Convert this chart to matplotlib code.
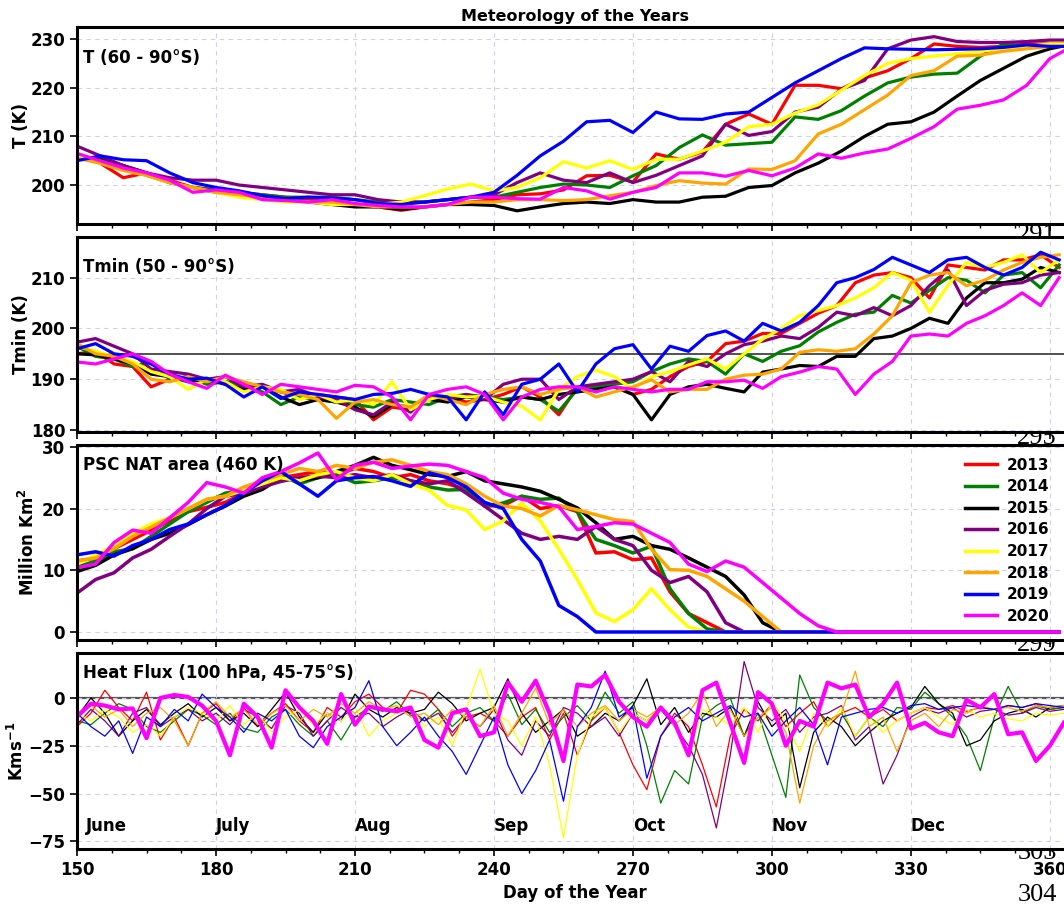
import numpy as np
import matplotlib as mpl
mpl.use('Agg')
import matplotlib.pyplot as plt

plt.rcParams['font.family'] = 'DejaVu Sans'
plt.rcParams['font.weight'] = 'bold'
plt.rcParams['axes.labelweight'] = 'bold'

years = ['2013', '2014', '2015', '2016', '2017', '2018', '2019', '2020']
colors = ['red', 'green', 'black', 'purple', 'yellow', 'orange', 'blue', 'magenta']

# day grids used when reading the curves off the figure
days5 = np.arange(150, 366, 5)
days4 = np.arange(150, 363, 4)
days3 = np.arange(150, 364, 3)

# T (60 - 90S), every 5 days
t_2013 = [206.0, 204.5, 201.5, 202.5, 201.0, 199.5, 199.0, 198.5, 198.0, 197.5,
          197.0, 196.5, 196.0, 195.5, 194.8, 195.5, 196.0, 196.5, 197.0, 198.0,
          198.2, 199.0, 201.9, 202.0, 200.6, 206.4, 205.3, 206.8, 212.5, 214.6,
          212.5, 220.5, 220.5, 219.8, 222.0, 223.5, 226.0, 229.0, 228.5, 228.3,
          228.5, 229.0, 229.0, 229.0]
t_2014 = [206.0, 205.0, 203.5, 202.0, 200.5, 199.5, 199.0, 198.5, 198.0, 197.5,
          197.5, 197.5, 197.0, 196.5, 196.5, 196.5, 197.0, 197.5, 197.5, 198.5,
          199.5, 200.2, 200.0, 199.5, 201.9, 204.0, 207.7, 210.3, 208.2, 208.5,
          208.8, 214.0, 213.5, 215.3, 218.3, 221.0, 222.2, 222.8, 223.0, 226.5,
          229.0, 228.6, 228.8, 229.0]
t_2015 = [205.5, 205.5, 204.0, 202.5, 200.5, 199.5, 198.5, 198.0, 197.5, 197.0,
          196.5, 196.0, 195.5, 195.5, 195.0, 195.5, 196.0, 196.0, 195.8, 194.7,
          195.5, 196.2, 196.5, 196.2, 197.0, 196.5, 196.5, 197.5, 197.7, 199.5,
          199.9, 202.5, 204.5, 207.0, 210.0, 212.5, 213.0, 215.0, 218.3, 221.5,
          224.0, 226.5, 228.0, 229.0]
t_2016 = [208.0, 206.0, 204.0, 202.5, 201.5, 201.0, 201.0, 200.0, 199.5, 199.0,
          198.5, 198.0, 198.0, 197.0, 196.5, 196.5, 197.0, 197.5, 198.0, 200.5,
          202.5, 201.0, 200.5, 202.5, 200.5, 202.0, 204.0, 206.0, 212.5, 210.2,
          211.0, 215.0, 216.0, 219.7, 221.5, 228.0, 229.8, 230.5, 229.5, 229.3,
          229.3, 229.5, 229.8, 229.8]
t_2017 = [206.0, 204.5, 203.0, 202.0, 200.5, 199.5, 198.5, 197.5, 197.0, 196.5,
          196.5, 196.0, 196.0, 196.0, 196.5, 197.8, 199.2, 200.2, 198.8, 199.5,
          201.5, 204.8, 203.5, 205.0, 203.2, 205.3, 205.3, 207.0, 208.8, 212.0,
          212.5, 214.8, 216.5, 219.5, 222.5, 225.0, 226.0, 226.5, 227.0, 227.5,
          228.0, 228.5, 229.0, 229.0]
t_2018 = [205.5, 204.5, 203.0, 202.0, 200.5, 199.5, 198.5, 198.0, 197.5, 197.0,
          196.5, 196.5, 196.0, 195.5, 195.5, 195.5, 196.0, 196.5, 196.5, 197.0,
          197.0, 196.8, 197.0, 197.8, 198.5, 199.9, 200.9, 200.4, 200.2, 203.3,
          203.2, 205.0, 210.5, 212.5, 215.5, 218.5, 222.5, 223.5, 226.5, 226.7,
          227.5, 228.0, 228.5, 228.5]
t_2019 = [205.0, 206.0, 205.2, 205.0, 202.5, 200.5, 199.5, 198.8, 197.8, 197.2,
          197.5, 197.3, 197.0, 196.2, 196.0, 196.5, 197.0, 197.5, 198.5, 202.0,
          206.0, 209.0, 213.0, 213.3, 210.8, 215.0, 213.6, 213.5, 214.6, 215.0,
          218.0, 221.0, 223.5, 226.0, 228.2, 228.0, 227.9, 227.8, 227.9, 228.0,
          228.3, 228.8, 228.5, 228.5]
t_2020 = [206.5, 205.0, 203.5, 202.5, 201.0, 198.5, 199.0, 198.5, 197.0, 196.8,
          196.5, 197.0, 196.2, 195.8, 195.5, 195.5, 196.0, 197.5, 197.5, 197.2,
          197.1, 199.5, 198.8, 197.1, 198.5, 199.5, 202.5, 202.5, 201.8, 203.0,
          201.9, 203.5, 206.4, 205.5, 206.6, 207.4, 209.6, 212.0, 215.6, 216.4,
          217.5, 220.5, 226.0, 228.6]

# Tmin (50 - 90S), every 4 days
tmin_2013 = [195.0, 195.5, 193.0, 192.5, 188.5, 190.0, 190.5, 189.5, 189.5, 189.0,
             188.5, 187.5, 186.5, 187.0, 186.5, 186.0, 182.0, 184.5, 184.0, 186.5,
             186.5, 185.5, 186.0, 187.0, 188.5, 186.5, 183.0, 188.5, 188.0, 188.5,
             187.0, 188.0, 190.5, 192.5, 193.5, 197.0, 197.5, 199.0, 199.0, 201.0,
             203.0, 204.5, 209.0, 210.5, 211.0, 210.0, 206.0, 212.5, 212.0, 211.5,
             213.5, 213.5, 214.5, 212.0]
tmin_2014 = [196.5, 194.5, 194.0, 192.5, 193.4, 190.0, 190.5, 189.0, 189.5, 188.5,
             187.5, 185.0, 186.5, 186.0, 185.5, 185.0, 184.5, 186.0, 185.5, 185.0,
             186.5, 187.0, 186.5, 186.0, 186.5, 186.0, 183.7, 188.0, 188.5, 189.0,
             189.5, 191.5, 193.0, 194.0, 193.5, 191.0, 195.0, 193.5, 195.5, 196.6,
             199.3, 201.2, 202.8, 203.2, 206.5, 205.0, 207.5, 210.0, 209.5, 207.0,
             210.5, 211.0, 208.0, 212.5]
tmin_2015 = [195.0, 194.8, 194.0, 193.0, 191.0, 190.5, 189.5, 190.0, 189.0, 188.0,
             188.5, 186.5, 185.0, 186.0, 185.5, 184.5, 182.6, 185.0, 184.5, 186.0,
             185.5, 186.5, 186.0, 185.5, 186.5, 186.0, 187.0, 187.5, 188.0, 188.5,
             187.0, 182.0, 187.0, 188.5, 189.0, 188.2, 187.5, 191.4, 192.0, 192.7,
             192.5, 194.5, 194.5, 198.0, 198.5, 200.0, 202.0, 201.0, 206.0, 209.0,
             209.0, 209.7, 212.0, 211.0]
tmin_2016 = [197.3, 198.0, 196.5, 195.0, 192.0, 191.5, 191.0, 190.0, 190.5, 188.5,
             189.0, 187.5, 188.0, 186.5, 186.0, 184.0, 183.0, 185.5, 183.5, 187.0,
             186.0, 187.0, 186.0, 189.0, 190.0, 190.0, 186.0, 188.5, 189.0, 189.5,
             190.0, 191.5, 189.5, 193.5, 192.5, 195.0, 196.8, 197.5, 198.5, 198.0,
             200.2, 203.2, 202.5, 204.1, 202.5, 204.5, 208.4, 211.5, 204.5, 207.5,
             208.7, 209.0, 210.5, 211.0]
tmin_2017 = [196.5, 195.5, 194.5, 193.5, 191.5, 190.5, 188.0, 190.0, 189.5, 187.5,
             188.5, 188.0, 186.0, 187.0, 185.5, 186.0, 185.0, 189.5, 184.0, 186.0,
             187.0, 186.5, 186.6, 185.5, 184.7, 182.0, 188.0, 190.5, 191.8, 190.5,
             188.0, 190.5, 191.5, 192.8, 194.0, 192.0, 195.0, 197.9, 200.0, 202.5,
             203.5, 204.5, 206.0, 208.0, 211.0, 209.5, 203.2, 208.5, 213.0, 212.0,
             213.0, 214.5, 211.0, 213.5]
tmin_2018 = [197.0, 195.0, 194.5, 193.0, 190.0, 189.5, 190.5, 189.5, 190.5, 189.5,
             188.5, 187.5, 187.0, 186.0, 182.3, 185.5, 186.0, 185.0, 184.5, 187.0,
             186.0, 185.0, 187.0, 188.0, 188.5, 187.0, 188.0, 188.5, 186.5, 187.5,
             188.5, 189.9, 187.5, 188.0, 188.0, 190.0, 190.8, 191.0, 192.0, 195.3,
             195.8, 195.5, 196.0, 198.9, 202.5, 209.0, 210.5, 211.0, 208.4, 209.5,
             211.5, 213.0, 214.0, 214.5]
tmin_2019 = [196.0, 197.0, 195.0, 194.5, 193.0, 191.0, 190.0, 190.2, 189.0, 186.5,
             188.5, 186.2, 187.5, 187.0, 186.5, 186.0, 187.0, 187.2, 188.0, 187.0,
             186.5, 182.0, 187.5, 183.0, 189.0, 190.0, 193.0, 187.5, 193.0, 196.0,
             196.8, 192.0, 196.5, 195.5, 198.6, 199.5, 197.5, 201.0, 199.5, 201.2,
             204.5, 209.0, 210.0, 211.6, 214.0, 212.5, 211.0, 213.5, 214.0, 212.0,
             210.5, 212.0, 215.0, 213.5]
tmin_2020 = [193.4, 193.0, 194.0, 195.0, 193.5, 191.0, 189.5, 188.2, 190.8, 189.0,
             187.0, 189.0, 188.5, 188.0, 187.5, 188.8, 188.5, 186.5, 182.0, 187.0,
             188.0, 188.5, 187.0, 182.0, 186.5, 188.0, 188.5, 188.5, 187.5, 188.5,
             188.0, 187.5, 188.0, 188.0, 189.5, 189.5, 189.8, 188.2, 190.5, 191.4,
             192.5, 192.0, 187.0, 191.0, 193.5, 198.5, 198.9, 198.5, 201.0, 202.5,
             204.5, 207.0, 204.5, 210.0]

# PSC NAT area (460 K), every 4 days, million km2
psc_2013 = [11.5, 12.0, 13.5, 15.0, 16.5, 18.0, 19.5, 20.2, 21.0, 22.5,
            24.0, 25.0, 25.5, 26.0, 25.5, 26.5, 26.0, 25.0, 25.5, 24.5,
            24.0, 23.1, 20.4, 20.5, 22.0, 20.0, 20.5, 19.5, 12.8, 13.0,
            11.7, 12.0, 6.5, 3.0, 1.5, 0, 0, 0, 0, 0,
            0, 0, 0, 0, 0, 0, 0, 0, 0, 0,
            0, 0, 0, 0]
psc_2014 = [10.5, 11.5, 13.0, 13.5, 15.5, 17.5, 19.5, 21.0, 22.5, 23.0,
            24.0, 25.5, 24.0, 25.0, 25.5, 24.2, 24.5, 25.0, 24.5, 23.5,
            23.0, 23.1, 20.4, 20.9, 22.0, 21.5, 21.7, 19.5, 15.0, 14.0,
            12.8, 13.9, 7.0, 3.0, 0.5, 0, 0, 0, 0, 0,
            0, 0, 0, 0, 0, 0, 0, 0, 0, 0,
            0, 0, 0, 0]
psc_2015 = [9.8, 10.8, 12.5, 13.5, 15.0, 16.0, 17.4, 19.0, 20.4, 22.0,
            23.1, 25.0, 24.5, 25.0, 26.0, 27.0, 28.3, 27.0, 26.3, 25.5,
            25.2, 26.0, 24.5, 24.0, 23.5, 22.8, 21.5, 20.1, 17.7, 15.0,
            15.5, 14.0, 13.4, 12.0, 10.5, 9.0, 6.0, 1.5, 0, 0,
            0, 0, 0, 0, 0, 0, 0, 0, 0, 0,
            0, 0, 0, 0]
psc_2016 = [6.3, 8.5, 9.6, 12.0, 13.4, 15.5, 17.5, 20.0, 22.0, 22.5,
            23.5, 24.4, 25.0, 25.3, 25.0, 25.5, 25.0, 25.5, 24.5, 24.0,
            24.5, 22.5, 20.4, 18.2, 16.0, 15.0, 15.5, 15.0, 17.1, 15.0,
            14.0, 10.0, 8.0, 9.0, 6.5, 1.5, 0, 0, 0, 0,
            0, 0, 0, 0, 0, 0, 0, 0, 0, 0,
            0, 0, 0, 0]
psc_2017 = [11.0, 12.5, 14.0, 16.0, 17.5, 18.5, 20.0, 21.5, 22.0, 23.0,
            24.0, 25.0, 24.5, 25.5, 26.0, 25.0, 24.5, 25.5, 24.0, 23.0,
            20.5, 19.8, 16.6, 18.0, 20.9, 18.0, 13.4, 8.5, 3.1, 1.7,
            3.6, 7.0, 3.6, 0.8, 0, 0, 0, 0, 0, 0,
            0, 0, 0, 0, 0, 0, 0, 0, 0, 0,
            0, 0, 0, 0]
psc_2018 = [11.5, 12.0, 13.5, 15.5, 17.0, 18.5, 20.0, 21.5, 22.0, 23.5,
            24.5, 25.5, 26.5, 26.0, 27.0, 26.5, 27.5, 27.9, 27.0, 26.0,
            25.5, 24.0, 22.0, 20.4, 20.0, 18.8, 20.5, 19.8, 19.0, 18.2,
            17.9, 13.4, 10.1, 10.0, 9.0, 7.0, 5.0, 2.5, 0, 0,
            0, 0, 0, 0, 0, 0, 0, 0, 0, 0,
            0, 0, 0, 0]
psc_2019 = [12.5, 13.0, 12.3, 14.0, 15.0, 16.6, 17.5, 19.0, 20.5, 22.5,
            24.5, 26.0, 24.0, 22.0, 24.5, 25.0, 25.2, 24.5, 23.6, 25.8,
            25.0, 23.5, 21.0, 20.0, 15.0, 11.5, 4.3, 2.5, 0, 0,
            0, 0, 0, 0, 0, 0, 0, 0, 0, 0,
            0, 0, 0, 0, 0, 0, 0, 0, 0, 0,
            0, 0, 0, 0]
psc_2020 = [10.4, 11.0, 14.5, 16.5, 16.0, 18.5, 21.0, 24.2, 23.5, 22.5,
            25.0, 26.0, 27.4, 29.0, 24.7, 27.0, 27.5, 26.5, 26.9, 27.2,
            27.0, 26.0, 25.0, 22.5, 21.5, 21.0, 20.3, 16.6, 17.1, 17.7,
            17.5, 16.0, 14.5, 11.0, 9.8, 11.5, 10.5, 8.0, 5.5, 3.0,
            1.0, 0, 0, 0, 0, 0, 0, 0, 0, 0,
            0, 0, 0, 0]

# heat flux (100 hPa, 45-75S), every 3 days
hf_2013 = [-15, -8, 4, -5, -12, 3, -22, -10, -25, -8,
           -3, -12, -5, -15, -8, -3, -12, -18, -5, -10,
           -2, 2, -5, -8, 4, 2, -6, -20, -10, -8,
           -12, -20, -10, -5, -22, -8, -30, -12, -5, -18,
           -35, -48, -20, -8, -15, -35, -57, -20, -6, -12,
           -3, -15, -8, -2, -15, -8, -5, -10, -6, -12,
           -8, -5, -6, -4, -7, -5, -6, -4, -5, -3,
           -6, -5]
hf_2014 = [-12, -14, -8, -3, -6, -15, -18, -12, -6, -9,
           -14, -8, -16, -18, -10, -6, -14, -20, -12, -22,
           -10, -5, -7, -2, -9, -12, -6, -15, -8, -5,
           -12, 2, -14, -6, -18, -10, -4, -12, 3, -8,
           -2, -25, -55, -38, -45, -10, -4, 0, -20, -8,
           -30, -52, 12, -5, -12, -8, -20, -10, -15, -5,
           -6, 3, -3, -10, -20, -38, -10, 6, -8, -4,
           -6, -5]
hf_2015 = [-10, 0, -8, -20, -12, -6, -14, -8, -3, -10,
           -5, -12, -8, -15, -6, 3, -10, -18, -8, -12,
           2, -6, -10, -5, -8, -6, 3, -3, -12, -8,
           -5, 10, -8, -18, -12, -6, -20, -15, -8, -12,
           -4, 10, -14, -5, -18, -8, -10, -5, -20, -2,
           -15, -8, -47, -18, -10, -15, -25, -18, -12, -8,
           -5, 6, -3, -8, -25, -22, -12, -8, -6, -10,
           -5, -4]
hf_2016 = [-14, -6, -12, -20, -8, -5, -15, -10, -6, -12,
           -8, -14, -6, -10, -16, -4, -8, -20, -12, -5,
           -10, -8, -15, -10, -6, -12, -8, -18, -10, -15,
           -6, -22, -30, -12, -20, -5, -8, -15, -10, -20,
           -8, -12, -6, -15, -25, -40, -68, -30, 19, -5,
           -12, -6, -18, -10, -8, -4, -22, -15, -45, -30,
           -10, -6, -8, -5, -10, -7, -6, -9, -8, -5,
           -7, -6]
hf_2017 = [-8, -12, -6, -10, -18, -14, -20, -10, -5, -8,
           -12, -4, -14, -8, -18, -10, -6, -14, -8, -12,
           -5, -20, -12, -8, -5, -15, -10, -25, -6, 15,
           -8, -12, -25, -10, -35, -73, -30, -10, -5, -18,
           -8, -12, -4, -15, -30, -6, -10, -14, -5, -18,
           -2, -12, -28, -8, -15, -5, -20, -10, -18, -12,
           -8, -5, -10, -14, -6, -10, -8, -11, -12, -8,
           -9, -8]
hf_2018 = [-8, -4, -10, -6, -15, -8, -5, -12, -25, -8,
           -2, -10, -6, -14, -8, -4, -12, -6, -10, -3,
           -8, -2, -6, -4, -10, -8, -14, -6, -10, -15,
           -4, -20, -8, 5, -14, -6, -15, -8, -4, -12,
           -6, -10, -5, -14, -8, 3, -15, -6, -20, -10,
           -5, -18, -55, -25, -12, -8, 14, -15, -10, -28,
           -12, -8, -15, -6, -8, -4, -6, -5, -7, -4,
           -5, -4]
hf_2019 = [-8, -15, -20, -12, -29, -10, -15, -6, -12, 2,
           -5, -10, -18, -8, -12, -6, -20, -26, -15, -10,
           -5, 9, -15, -25, -18, -10, -20, -28, -40, -25,
           -10, -35, -50, -38, -22, -54, -15, -5, 14, -10,
           -5, -42, -20, -10, -5, -12, -8, -4, -10, -8,
           -20, -12, -5, -14, -35, -10, -8, -6, -5, -8,
           -4, -3, -6, -5, -4, -5, -6, -4, -5, -3,
           -4, -5]
hf_2020 = [-9.8, -3.0, -4.0, -6.0, -5.5, -21.0, 0.0, 1.5, 0.5, -4.0,
           -12.0, -30.0, -3.0, -10.0, -26.0, 4.0, -5.0, -12.0, -24.0, 2.0,
           -14.0, -4.5, -6.0, -7.0, -5.0, -22.0, -26.0, -8.0, -6.0, -20.0,
           -18.0, 8.0, -2.0, 9.0, -8.0, -33.0, 7.0, 6.0, 12.0, -2.0,
           -10.0, -15.0, -5.0, -13.0, -30.0, 4.0, 8.0, -13.0, -34.0, 3.0,
           -3.0, -25.0, -12.0, -15.0, 8.0, 5.0, 7.0, -10.0, -3.0, 8.0,
           -16.0, -13.0, -18.0, -20.0, -1.0, -5.0, 2.0, -19.0, -18.0, -33.0,
           -25.0, -13.0]

t_all = [t_2013, t_2014, t_2015, t_2016, t_2017, t_2018, t_2019, t_2020]
tmin_all = [tmin_2013, tmin_2014, tmin_2015, tmin_2016, tmin_2017, tmin_2018, tmin_2019, tmin_2020]
psc_all = [psc_2013, psc_2014, psc_2015, psc_2016, psc_2017, psc_2018, psc_2019, psc_2020]
hf_all = [hf_2013, hf_2014, hf_2015, hf_2016, hf_2017, hf_2018, hf_2019, hf_2020]

months = ['June', 'July', 'Aug', 'Sep', 'Oct', 'Nov', 'Dec']
month_days = [152, 180, 210, 240, 270, 300, 330]

fig = plt.figure(figsize=(10.64, 9.13), dpi=100)
L, W = 0.0724, 0.9361
ax1 = fig.add_axes([L, 0.7547, W, 0.2158])
ax2 = fig.add_axes([L, 0.5268, W, 0.2136])
ax3 = fig.add_axes([L, 0.2990, W, 0.2136])
ax4 = fig.add_axes([L, 0.0701, W, 0.2147])
axs = [ax1, ax2, ax3, ax4]

for i in range(8):
    ax1.plot(days5, t_all[i], color=colors[i], lw=2.3)
    ax2.plot(days4, tmin_all[i], color=colors[i], lw=2.3)
    ax3.plot(days4, psc_all[i], color=colors[i], lw=2.5, label=years[i])
    if years[i] == '2020':
        ax4.plot(days3, hf_all[i], color=colors[i], lw=3.0)
    else:
        ax4.plot(days3, hf_all[i], color=colors[i], lw=0.9)

ax2.axhline(195, color='#333333', lw=1.2, zorder=1)
ax4.axhline(0, color='#555555', lw=1.6, zorder=1)

ax1.set_ylim(192, 232.5)
ax1.set_yticks([200, 210, 220, 230])
ax2.set_ylim(179.6, 218)
ax2.set_yticks([180, 190, 200, 210])
ax3.set_ylim(-1.3, 30.3)
ax3.set_yticks([0, 10, 20, 30])
ax4.set_ylim(-79, 23.5)
ax4.set_yticks([-75, -50, -25, 0])

for ax in axs:
    ax.set_xlim(150, 365)
    ax.set_xticks(np.arange(150, 361, 30))
    ax.set_xticks(np.arange(150, 365, 7.5), minor=True)
    ax.grid(True, which='major', ls=(0, (4, 4)), color='#d0d0ee', lw=0.8)
    ax.tick_params(which='major', length=5, width=1.2, labelsize=12)
    ax.tick_params(which='minor', length=3, width=1.0)
    for s in ax.spines.values():
        s.set_linewidth(2.2)
    if ax is not ax4:
        ax.tick_params(labelbottom=False)

ax1.set_title('Meteorology of the Years', fontsize=11.5, fontweight='bold', pad=4)

ax1.text(0.006, 0.84, 'T (60 - 90°S)', transform=ax1.transAxes, fontsize=12, va='center')
ax2.text(0.006, 0.846, 'Tmin (50 - 90°S)', transform=ax2.transAxes, fontsize=12, va='center')
ax3.text(0.006, 0.897, 'PSC NAT area (460 K)', transform=ax3.transAxes, fontsize=12, va='center')
ax4.text(0.006, 0.898, 'Heat Flux (100 hPa, 45-75°S)', transform=ax4.transAxes, fontsize=12, va='center')

ax1.set_ylabel('T (K)', fontsize=12)
ax2.set_ylabel('Tmin (K)', fontsize=12)
ax3.set_ylabel('Million Km$^\\mathbf{2}$', fontsize=12)
ax4.set_ylabel('Kms$^{\\mathbf{-1}}$', fontsize=12)
ax1.yaxis.set_label_coords(-0.047, 0.5)
ax2.yaxis.set_label_coords(-0.047, 0.5)
ax3.yaxis.set_label_coords(-0.039, 0.5)
ax4.yaxis.set_label_coords(-0.05, 0.5)

for m, d in zip(months, month_days):
    ax4.text(d, -67, m, fontsize=12, va='center', ha='left')

ax4.set_xlabel('Day of the Year', fontsize=12)

ax3.legend(loc='upper right', bbox_to_anchor=(1063 / 1064, 1 - 444 / 913),
           bbox_transform=fig.transFigure, frameon=False, fontsize=11,
           handlelength=2.1, handletextpad=0.6, labelspacing=0.43)

# stray page line numbers visible in the source picture
for num, ytop in zip(['291', '295', '299', '303', '304'], [224, 427, 634, 842, 884]):
    fig.text(1057 / 1064, 1 - ytop / 913, num, ha='right', va='top', fontsize=19,
             family='Liberation Serif', fontweight='normal', zorder=-1)

fig.savefig('out.png', dpi=100)
